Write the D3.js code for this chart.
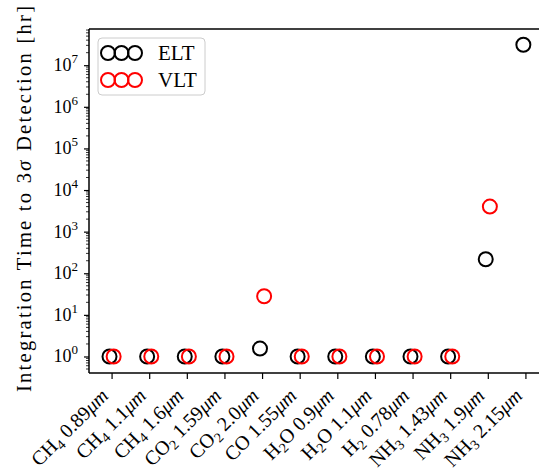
<!DOCTYPE html>
<html><head><meta charset="utf-8">
<script src="https://cdn.jsdelivr.net/npm/d3@7"></script>
<style>
body{margin:0;background:#fff;}
svg{display:block;font-family:"Liberation Serif",serif;}
</style></head>
<body><svg id="c" width="539" height="472"></svg>
<script>
const categories = ["CH_4 0.89μm","CH_4 1.1μm","CH_4 1.6μm","CO_2 1.59μm","CO_2 2.0μm","CO 1.55μm",
  "H_2O 0.9μm","H_2O 1.1μm","H_2 0.78μm","NH_3 1.43μm","NH_3 1.9μm","NH_3 2.15μm"];
const eltValues = [1,1,1,1,1.55,1,1,1,1,1,217,3.1e7];
const vltValues = [1,1,1,1,28,1,1,1,1,1,4000,null];
const seriesNames = ["ELT","VLT"];
const seriesColors = ["#000000","#ff0000"];
const yTickExponents = [0,1,2,3,4,5,6,7];

const svg = d3.select("#c");
const L=89, R=548, T=29, B=373;
const x = d3.scaleLinear().domain([-0.6, categories.length-1+0.6]).range([L,R]);
const y = d3.scaleLog().domain([Math.pow(10,-0.397), Math.pow(10,7.87)]).range([B,T]);
const off = 0.055;

// y axis
const yAxis = d3.axisLeft(y).tickValues(yTickExponents.map(e=>Math.pow(10,e))).tickSize(5).tickFormat("");
const gy = svg.append("g").attr("transform",`translate(${L},0)`).call(yAxis);
gy.select(".domain").remove();
gy.selectAll(".tick line").attr("stroke","#000").attr("stroke-width",1.2);
// minor ticks
const minors=[];
for(let e=-1;e<=7;e++){for(let m=2;m<=9;m++){const v=m*Math.pow(10,e); if(v>=y.domain()[0]&&v<=y.domain()[1]) minors.push(v);}}
svg.append("g").selectAll("line").data(minors).join("line")
  .attr("x1",L-3).attr("x2",L).attr("y1",d=>y(d)).attr("y2",d=>y(d)).attr("stroke","#000").attr("stroke-width",0.8);
// y tick labels
const ytl = svg.append("g").selectAll("text").data(yTickExponents).join("text")
  .attr("x",L-11).attr("y",d=>y(Math.pow(10,d))+6).attr("text-anchor","end").attr("font-size",18);
ytl.append("tspan").text("10");
ytl.append("tspan").attr("dy",-8).attr("font-size",13).text(d=>d);

// x axis
const xAxis = d3.axisBottom(x).tickValues(d3.range(categories.length)).tickSize(6).tickFormat("");
const gx = svg.append("g").attr("transform",`translate(0,${B})`).call(xAxis);
gx.select(".domain").remove();
gx.selectAll(".tick line").attr("stroke","#000").attr("stroke-width",1.2);

const xl = svg.append("g").selectAll("text").data(categories).join("text")
  .attr("transform",(d,i)=>`translate(${x(i)-2},${B+24}) rotate(-45)`)
  .attr("text-anchor","end").attr("font-size",20);
xl.each(function(d){
  const m = d.match(/^([A-Za-z]+?)(?:_(\d))?([A-Za-z]*) ([\d.]+)μm$/);
  const t = d3.select(this);
  t.append("tspan").text(m[1]);
  if(m[2]){
    t.append("tspan").attr("font-size",14).attr("dy",4).text(m[2]);
    t.append("tspan").attr("dy",-4).text(m[3]+" "+m[4]);
  } else {
    t.append("tspan").text(m[3]+" "+m[4]);
  }
  t.append("tspan").attr("font-style","italic").text("μm");
});

// spines
svg.append("line").attr("x1",L).attr("x2",L).attr("y1",T).attr("y2",B).attr("stroke","#000").attr("stroke-width",1.5);
svg.append("line").attr("x1",L).attr("x2",R).attr("y1",B).attr("y2",B).attr("stroke","#000").attr("stroke-width",1.5);
svg.append("line").attr("x1",L).attr("x2",R).attr("y1",T).attr("y2",T).attr("stroke","#000").attr("stroke-width",1.5);
svg.append("line").attr("x1",R).attr("x2",R).attr("y1",T).attr("y2",B).attr("stroke","#000").attr("stroke-width",1.5);

// y label
const yl = svg.append("text").attr("transform",`translate(31,${(T+B)/2-2}) rotate(-90)`)
  .attr("text-anchor","middle").attr("font-size",20.5)
  .attr("textLength",386).attr("lengthAdjust","spacing");
yl.append("tspan").text("Integration Time to 3");
yl.append("tspan").attr("font-style","italic").text("σ");
yl.append("tspan").text(" Detection [hr]");

// points
const series=[eltValues,vltValues];
series.forEach((vals,si)=>{
  svg.append("g").selectAll("circle").data(vals.map((v,i)=>({v,i})).filter(d=>d.v!=null)).join("circle")
    .attr("cx",d=>x(d.i+(si===0?-off:off))).attr("cy",d=>y(d.v)).attr("r",7)
    .attr("fill","none").attr("stroke",seriesColors[si]).attr("stroke-width",2);
});

// legend
const lg = svg.append("g");
lg.append("rect").attr("x",98).attr("y",38).attr("width",107).attr("height",57).attr("rx",4)
  .attr("fill","#fff").attr("fill-opacity",0.8).attr("stroke","#cccccc").attr("stroke-width",1);
seriesNames.forEach((n,si)=>{
  const cy = 53 + si*27;
  [108,121.5,135].forEach(cx=>{
    lg.append("circle").attr("cx",cx).attr("cy",cy).attr("r",7).attr("fill","none")
      .attr("stroke",seriesColors[si]).attr("stroke-width",2);
  });
  lg.append("text").attr("x",158).attr("y",cy+7).attr("font-size",21).text(n);
});
</script></body></html>
